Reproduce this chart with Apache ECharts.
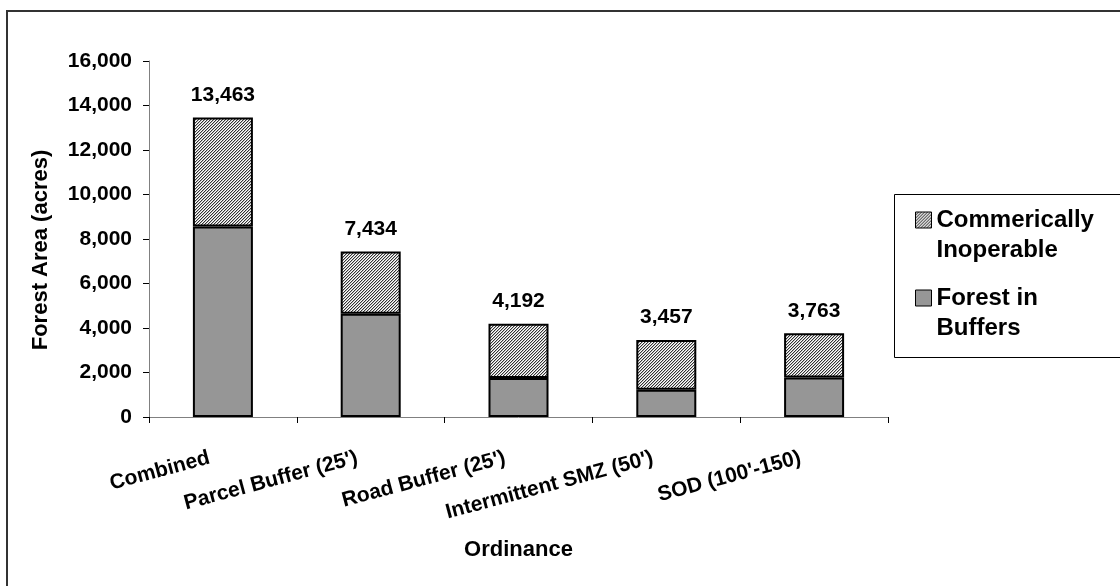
<!DOCTYPE html>
<html>
<head>
<meta charset="utf-8">
<title>Forest Area by Ordinance</title>
<script src="https://cdn.jsdelivr.net/npm/echarts@6/dist/echarts.min.js"></script>
<style>
  html, body { margin: 0; padding: 0; background: #ffffff; }
  #chart { width: 1120px; height: 586px; }
</style>
</head>
<body>
<div id="chart"></div>
<script>
// Ordinance categories along the x axis
const categories = ['Combined', "Parcel Buffer (25')", "Road Buffer (25')", "Intermittent SMZ (50')", "SOD (100'-150)"];
// Forest acreage inside buffers (lower stack)
const forestInBuffers = [8560, 4640, 1750, 1230, 1780];
// Commercially inoperable acreage (upper stack)
const commInoperable = [4903, 2794, 2442, 2227, 1983];
// Stack totals printed above each column
const totals = [13463, 7434, 4192, 3457, 3763];
// Value axis ticks
const yTicks = { min: 0, max: 16000, interval: 2000 };

const FONT = '"Liberation Sans", Arial, sans-serif';

// Fine diagonal hatch fill
function hatchPattern() {
  const c = document.createElement('canvas');
  c.width = 3; c.height = 3;
  const g = c.getContext('2d');
  g.fillStyle = '#ffffff';
  g.fillRect(0, 0, 3, 3);
  for (let i = 0; i < 3; i++) {
    g.fillStyle = '#333333';
    g.fillRect(i, 2 - i, 1, 1);
    g.fillStyle = '#bbbbbb';
    g.fillRect((i + 1) % 3, 2 - i, 1, 1);
  }
  return { image: c, repeat: 'repeat' };
}

// Legend text: a blank first line keeps the swatch level with the first word line
const legendLines = {
  'Commerically Inoperable': '\nCommerically\nInoperable',
  'Forest in Buffers': '\nForest in\nBuffers'
};

const chart = echarts.init(document.getElementById('chart'), null, { renderer: 'canvas' });

chart.setOption({
  backgroundColor: '#ffffff',
  animation: false,
  graphic: [
    { type: 'rect', shape: { x: 7, y: 11, width: 1200, height: 700 },
      style: { fill: 'none', stroke: '#333333', lineWidth: 2 }, silent: true },
    { type: 'rect', shape: { x: 894.5, y: 194.5, width: 300, height: 163 },
      style: { fill: 'none', stroke: '#000000', lineWidth: 1 }, silent: true }
  ],
  grid: { left: 149, right: 232, top: 61, bottom: 169 },
  legend: {
    data: ['Commerically Inoperable', 'Forest in Buffers'],
    orient: 'vertical',
    left: 915,
    top: 175,
    padding: 0,
    itemGap: -12,
    itemWidth: 16,
    itemHeight: 16,
    icon: 'rect',
    selectedMode: false,
    itemStyle: { borderColor: '#000000', borderWidth: 1 },
    formatter: name => legendLines[name],
    textStyle: {
      fontFamily: FONT, fontWeight: 'bold', fontSize: 24, color: '#000000',
      lineHeight: 30
    }
  },
  xAxis: {
    type: 'category',
    data: categories,
    name: 'Ordinance',
    nameLocation: 'middle',
    nameGap: 122,
    nameTextStyle: { fontFamily: FONT, fontWeight: 'bold', fontSize: 22, color: '#000000' },
    axisLine: { show: true, lineStyle: { color: '#808080', width: 1 } },
    axisTick: { show: true, length: 6, lineStyle: { color: '#000000' } },
    axisLabel: {
      rotate: 15,
      margin: 37,
      interval: 0,
      padding: [0, 14, 0, 0],
      fontFamily: FONT, fontWeight: 'bold', fontSize: 21, color: '#000000'
    }
  },
  yAxis: {
    type: 'value',
    min: yTicks.min,
    max: yTicks.max,
    interval: yTicks.interval,
    name: 'Forest Area (acres)',
    nameLocation: 'middle',
    nameGap: 97,
    nameRotate: 90,
    nameTextStyle: {
      fontFamily: FONT, fontWeight: 'bold', fontSize: 22, color: '#000000',
      padding: [0, 22, 0, 0]
    },
    splitLine: { show: false },
    axisLine: { show: true, lineStyle: { color: '#808080', width: 1 } },
    axisTick: { show: true, length: 6, lineStyle: { color: '#000000' } },
    axisLabel: {
      margin: 17,
      fontFamily: FONT, fontWeight: 'bold', fontSize: 21, color: '#000000',
      formatter: v => v.toLocaleString('en-US')
    }
  },
  series: [
    {
      name: 'Forest in Buffers',
      type: 'bar',
      stack: 'area',
      barWidth: 60,
      data: forestInBuffers,
      itemStyle: { color: '#969696', borderColor: '#000000', borderWidth: 2 }
    },
    {
      name: 'Commerically Inoperable',
      type: 'bar',
      stack: 'area',
      barWidth: 60,
      data: commInoperable,
      itemStyle: { color: hatchPattern(), borderColor: '#000000', borderWidth: 2 },
      label: {
        show: true,
        position: 'top',
        distance: 12,
        fontFamily: FONT, fontWeight: 'bold', fontSize: 21, color: '#000000',
        formatter: p => totals[p.dataIndex].toLocaleString('en-US')
      }
    }
  ]
});
</script>
</body>
</html>
